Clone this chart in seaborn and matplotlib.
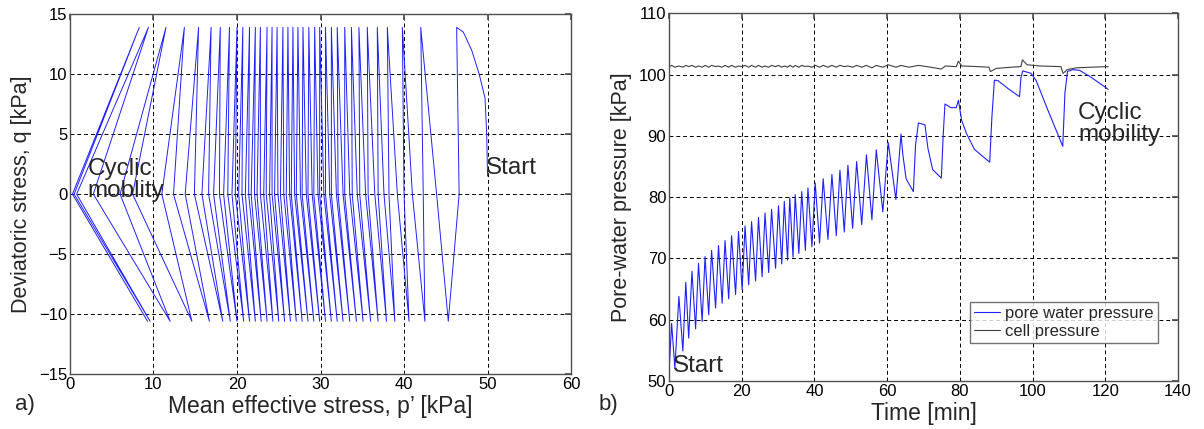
import pandas as pd
import seaborn as sns
import matplotlib
matplotlib.use("Agg")
import matplotlib.pyplot as plt

# ---- (a) effective stress path, p' [kPa] read at each cycle's turning points
start_p = [50.0, 49.9, 49.7, 49.0, 48.1, 47.1, 46.3]
start_q = [1.5, 5.0, 8.0, 10.0, 12.0, 13.5, 13.9]
top_p = [46.3, 42.0, 39.8, 38.0, 36.8, 35.6, 34.6, 33.7, 32.9, 32.0, 31.3, 30.6,
         29.9, 29.3, 28.6, 27.9, 27.3, 26.7, 26.1, 25.5, 24.8, 24.2, 23.6, 22.8,
         22.2, 21.5, 20.7, 20.0, 19.1, 18.0, 16.9, 15.4, 13.7, 11.5, 9.4, 8.3]
down_p = [46.6, 42.3, 40.0, 38.2, 36.9, 35.7, 34.7, 33.8, 32.9, 32.1, 31.3, 30.6,
          29.9, 29.2, 28.5, 27.8, 27.1, 26.5, 25.9, 25.2, 24.5, 23.9, 23.2, 22.4,
          21.7, 21.0, 20.2, 19.4, 18.4, 17.2, 15.8, 13.8, 11.0, 6.0, 0.8, 0.3]
bottom_p = [45.3, 42.5, 40.6, 38.9, 37.9, 36.9, 36.0, 35.1, 34.3, 33.5, 32.7, 32.0,
            31.3, 30.6, 29.9, 29.2, 28.5, 27.8, 27.1, 26.4, 25.7, 25.0, 24.3, 23.6,
            22.9, 22.2, 21.5, 20.8, 20.0, 19.2, 18.3, 16.7, 14.6, 12.0, 9.6, 9.3]
up_p = [43.9, 41.0, 39.2, 37.6, 36.5, 35.4, 34.4, 33.5, 32.7, 31.9, 31.1, 30.4,
        29.7, 29.0, 28.3, 27.6, 26.9, 26.3, 25.6, 24.9, 24.2, 23.5, 22.8, 22.1,
        21.4, 20.6, 19.8, 18.9, 17.9, 16.6, 14.9, 12.4, 7.5, 2.8, 0.5]
q_top = 13.9
q_bottom = -10.6

# ---- (b) pore-water pressure [kPa] vs time [min]
start_time, start_kpa = 0.0, 51.5
peak_time = [0.7, 2.7, 4.6, 6.3, 8.1, 9.9, 11.7, 13.6, 15.4, 17.2, 19.1, 20.9,
             22.7, 24.6, 26.4, 28.2, 30.1, 31.7, 33.2, 34.7, 36.5, 38.2, 40.2,
             42.4, 44.8, 47.0, 49.2, 51.6, 54.3, 57.0, 60.3, 63.8]
peak_kpa = [59.4, 63.8, 66.1, 67.9, 69.2, 70.3, 71.3, 72.1, 72.9, 73.7, 74.4, 75.3,
            76.0, 76.7, 77.4, 78.0, 78.6, 79.3, 79.9, 80.4, 80.9, 81.5, 82.3,
            83.0, 83.7, 84.4, 85.2, 85.8, 86.9, 87.7, 88.9, 90.3]
trough_time = [1.6, 3.8, 5.4, 7.3, 9.1, 10.9, 12.8, 14.6, 16.4, 18.3, 20.1, 21.9,
               23.8, 25.6, 27.4, 29.3, 31.0, 32.6, 34.1, 35.7, 37.5, 39.3, 41.4,
               43.7, 46.0, 48.2, 50.5, 53.0, 55.8, 58.8, 62.4]
trough_kpa = [52.1, 54.9, 57.0, 58.5, 59.7, 60.8, 61.9, 62.7, 63.4, 64.1, 64.9, 65.7,
              66.3, 67.0, 67.7, 68.4, 69.1, 69.7, 70.2, 70.8, 71.3, 71.9, 72.5,
              73.1, 73.7, 74.3, 74.9, 75.5, 76.3, 77.6, 79.6]
late_time = [64.3, 65.2, 67.2, 67.8, 68.6, 70.4, 71.2, 72.5, 74.9, 75.4, 75.9, 77.5,
             79.0, 79.6, 80.5, 81.8, 84.0, 88.2, 88.8, 89.5, 90.5, 93.5, 96.4, 96.8,
             97.3, 99.6, 101.0, 104.0, 108.3, 108.9, 109.6, 111.0, 112.9, 116.0, 120.8]
late_kpa = [87.0, 83.0, 80.9, 88.5, 92.1, 91.8, 88.0, 84.5, 83.1, 90.0, 95.2, 94.6,
            94.6, 95.8, 92.5, 90.4, 87.8, 85.7, 93.0, 99.1, 99.0, 97.6, 96.4, 99.5,
            100.6, 100.2, 99.0, 94.5, 88.3, 97.0, 100.5, 100.8, 100.7, 99.6, 97.6]

# cell pressure: small ripple during the regular cycles, then the late disturbances
cell_peak_kpa = [101.5, 101.4, 101.5, 101.5, 101.4, 101.5, 101.5, 101.4, 101.5, 101.5,
                 101.4, 101.5, 101.5, 101.5, 101.4, 101.5, 101.5, 101.4, 101.5, 101.5,
                 101.5, 101.4, 101.5, 101.5, 101.5, 101.5, 101.4, 101.5, 101.5, 101.5,
                 101.6, 101.5]
cell_trough_kpa = [101.2, 101.2, 101.3, 101.2, 101.2, 101.2, 101.3, 101.2, 101.2, 101.2,
                   101.3, 101.2, 101.2, 101.2, 101.2, 101.3, 101.2, 101.2, 101.2, 101.2,
                   101.3, 101.2, 101.2, 101.2, 101.2, 101.3, 101.2, 101.2, 101.1, 101.2,
                   101.2]
cell_late_time = [66.0, 68.6, 72.0, 74.9, 76.0, 79.0, 79.6, 80.5, 85.0, 88.0, 88.4,
                  90.0, 94.0, 96.8, 97.2, 98.5, 102.0, 107.8, 108.4, 109.5, 112.0,
                  116.0, 120.8]
cell_late_kpa = [101.2, 101.5, 101.2, 100.9, 101.4, 101.3, 102.2, 101.4, 101.3, 101.2,
                 100.5, 101.0, 101.2, 101.3, 102.4, 101.6, 101.4, 101.3, 100.2, 100.8,
                 101.1, 101.2, 101.3]

# ---- assemble paths
path_p, path_q = list(start_p), list(start_q)
for i in range(len(top_p)):
    if i > 0:
        path_p.append(top_p[i]); path_q.append(q_top)
    path_p += [down_p[i], bottom_p[i]]
    path_q += [0.0, q_bottom]
    if i < len(up_p):
        path_p.append(up_p[i]); path_q.append(0.0)
stress_df = pd.DataFrame({"p": path_p, "q": path_q})

pore_t, pore_u = [start_time], [start_kpa]
cell_t, cell_u = [start_time], [101.3]
for i in range(len(peak_time)):
    pore_t.append(peak_time[i]); pore_u.append(peak_kpa[i])
    cell_t.append(peak_time[i]); cell_u.append(cell_peak_kpa[i])
    if i < len(trough_time):
        pore_t.append(trough_time[i]); pore_u.append(trough_kpa[i])
        cell_t.append(trough_time[i]); cell_u.append(cell_trough_kpa[i])
pore_t += late_time; pore_u += late_kpa
cell_t += cell_late_time; cell_u += cell_late_kpa
pore_df = pd.DataFrame({"t": pore_t, "u": pore_u})
cell_df = pd.DataFrame({"t": cell_t, "u": cell_u})

sns.set_theme(style="white")
plt.rcParams["font.family"] = ["Liberation Sans", "DejaVu Sans"]

fig = plt.figure(figsize=(12.04, 4.29), dpi=100)
ax1 = fig.add_axes([0.0581, 0.128, 0.4162, 0.839])
ax2 = fig.add_axes([0.5557, 0.112, 0.4227, 0.857])

sns.lineplot(data=stress_df, x="p", y="q", sort=False, estimator=None,
             color="#2020ff", lw=0.7, ax=ax1)
sns.lineplot(data=pore_df, x="t", y="u", sort=False, estimator=None,
             color="#2020ff", lw=0.8, ax=ax2, label="pore water pressure")
sns.lineplot(data=cell_df, x="t", y="u", sort=False, estimator=None,
             color="#404040", lw=0.8, ax=ax2, label="cell pressure")

for ax in (ax1, ax2):
    ax.grid(True, color="black", ls=(0, (4, 3)), lw=0.7)
    for s in ax.spines.values():
        s.set_color("#505050")
        s.set_linewidth(1.0)
    ax.tick_params(direction="in", length=4, labelsize=12, colors="#505050",
                   labelcolor="black", top=True, right=True, pad=2)

ax1.set_xlim(0, 60)
ax1.set_ylim(-15, 15)
ax1.set_xticks(range(0, 61, 10))
ax1.set_yticks(range(-15, 16, 5))
ax1.set_xlabel("Mean effective stress, p’ [kPa]", fontsize=16.5, labelpad=2)
ax1.set_ylabel("Deviatoric stress, q [kPa]", fontsize=15.5, labelpad=5)
ax1.text(2.1, 1.2, "Cyclic\nmoblity", fontsize=17.5, va="center", ha="left",
         linespacing=1.0)
ax1.text(49.8, 2.2, "Start", fontsize=17.5, va="center", ha="left")

ax2.set_xlim(0, 140)
ax2.set_ylim(50, 110)
ax2.set_xticks(range(0, 141, 20))
ax2.set_yticks(range(50, 111, 10))
ax2.set_xlabel("Time [min]", fontsize=16.5, labelpad=2)
ax2.set_ylabel("Pore-water pressure [kPa]", fontsize=15.5, labelpad=5)
ax2.text(112.5, 92.0, "Cyclic\nmobility", fontsize=17.5, va="center", ha="left",
         linespacing=1.0)
ax2.text(1.0, 52.5, "Start", fontsize=17.5, va="center", ha="left")
leg = ax2.legend(loc="lower right", bbox_to_anchor=(0.961, 0.104), fontsize=12,
                 frameon=True, fancybox=False, handlelength=1.6, handletextpad=0.3,
                 borderpad=0.25, labelspacing=0.15, borderaxespad=0)
leg.get_frame().set_edgecolor("#505050")
leg.get_frame().set_linewidth(1.0)

fig.text(0.0125, 0.056, "a)", fontsize=16, ha="left", va="center")
fig.text(0.497, 0.056, "b)", fontsize=16, ha="left", va="center")

fig.savefig("out.png", dpi=100)
